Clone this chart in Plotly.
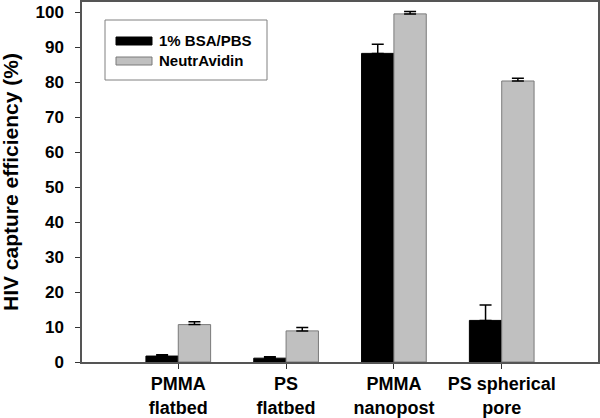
import plotly.graph_objects as go

categories = ["PMMA<br>flatbed", "PS<br>flatbed", "PMMA<br>nanopost", "PS spherical<br>pore"]
bsa_values = [1.7, 1.1, 88.3, 11.9]
bsa_err = [0.4, 0.4, 2.6, 4.4]
neutr_values = [10.7, 8.9, 99.6, 80.4]
neutr_err = [0.8, 1.0, 0.7, 0.8]
y_ticks = [0, 10, 20, 30, 40, 50, 60, 70, 80, 90, 100]
series_names = ["1% BSA/PBS", "NeutrAvidin"]
y_title = "HIV capture efficiency (%)"

FONT = "Arial, Liberation Sans, sans-serif"
W, H = 600, 418
ML, MR, MT, MB = 82, 2, 2, 56
PW, PH = W - ML - MR, H - MT - MB

idx = list(range(len(categories)))

fig = go.Figure()
fig.add_trace(go.Bar(
    x=idx, y=bsa_values, name=series_names[0],
    marker=dict(color="#000000", line=dict(color="#000000", width=1)),
    error_y=dict(type="data", array=bsa_err, arrayminus=[0] * 4, symmetric=False,
                 color="#000000", thickness=1.5, width=6),
    showlegend=False,
))
fig.add_trace(go.Bar(
    x=idx, y=neutr_values, name=series_names[1],
    marker=dict(color="#c0c0c0", line=dict(color="#7a7a7a", width=1)),
    error_y=dict(type="data", array=neutr_err, arrayminus=[0] * 4, symmetric=False,
                 color="#000000", thickness=1.5, width=6),
    showlegend=False,
))

# custom legend and axis title (pixel positions converted to paper coords)
def px(x):
    return (x - ML) / PW

def py(y):
    return (H - MB - y) / PH

shapes = [
    dict(type="rect", xref="paper", yref="paper", x0=px(105), x1=px(267), y0=py(80), y1=py(20),
         line=dict(color="#808080", width=1), fillcolor="white", layer="below"),
    dict(type="rect", xref="paper", yref="paper", x0=px(116), x1=px(152), y0=py(45), y1=py(37),
         line=dict(color="#000000", width=1), fillcolor="#000000"),
    dict(type="rect", xref="paper", yref="paper", x0=px(116), x1=px(152), y0=py(65), y1=py(57),
         line=dict(color="#7a7a7a", width=1), fillcolor="#c0c0c0"),
]
annotations = [
    dict(xref="paper", yref="paper", x=px(157), y=py(41), text=series_names[0], showarrow=False,
         xanchor="left", yanchor="middle", font=dict(family=FONT, size=15, color="black", weight="bold")),
    dict(xref="paper", yref="paper", x=px(157), y=py(61), text=series_names[1], showarrow=False,
         xanchor="left", yanchor="middle", font=dict(family=FONT, size=15, color="black", weight="bold")),
    dict(xref="paper", yref="paper", x=px(10), y=0.5, text=y_title, showarrow=False, textangle=-90,
         xanchor="center", yanchor="middle", font=dict(family=FONT, size=21, color="black", weight="bold")),
]

fig.update_layout(
    width=W, height=H,
    margin=dict(l=ML, r=MR, t=MT, b=MB, autoexpand=False),
    paper_bgcolor="white", plot_bgcolor="white",
    barmode="group", bargap=0.4, bargroupgap=0,
    shapes=shapes, annotations=annotations,
    font=dict(family=FONT, color="black"),
)
fig.update_xaxes(
    range=[-0.893, 3.893], tickmode="array", tickvals=idx, ticktext=categories,
    ticks="outside", ticklen=5, tickcolor="#333333", tickwidth=1,
    showline=True, linecolor="#555555", linewidth=1.5, mirror=True,
    showgrid=False, zeroline=False, ticklabelstandoff=0, automargin=False,
    tickfont=dict(family=FONT, size=18, color="black", weight="bold"),
)
fig.update_yaxes(
    range=[0, 103], tickmode="array", tickvals=y_ticks,
    ticks="outside", ticklen=5, tickcolor="#333333", tickwidth=1,
    showline=True, linecolor="#555555", linewidth=1.5, mirror=True,
    showgrid=False, zeroline=False, ticklabelstandoff=8, automargin=False,
    tickfont=dict(family=FONT, size=17, color="black", weight="bold"),
)

fig.write_html("out.html", config={"displayModeBar": False},
               post_script="document.body.style.margin='0px';")
